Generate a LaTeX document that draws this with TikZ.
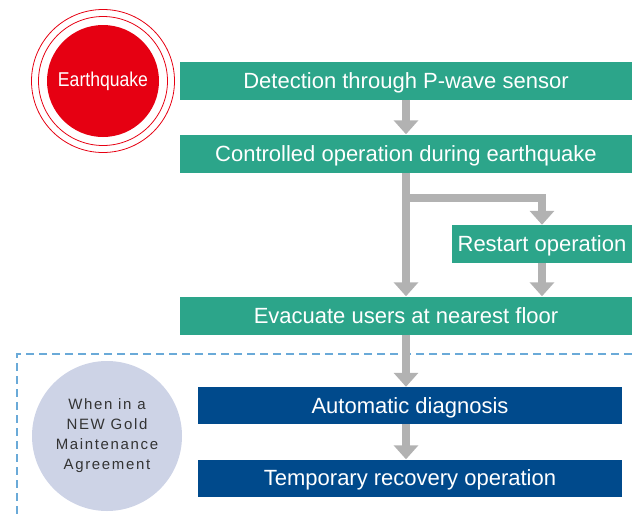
\documentclass[tikz,border=0pt]{standalone}
\usepackage{fontspec}
\setmainfont{Liberation Sans}
\newfontfamily\spaced[LetterSpace=11]{Liberation Sans}
\usepackage{tikz}
\usetikzlibrary{arrows.meta,positioning,calc}
\definecolor{quakered}{HTML}{E60012}
\definecolor{stepgreen}{HTML}{2CA58A}
\definecolor{stepblue}{HTML}{004A8C}
\definecolor{arrgray}{HTML}{B2B2B2}
\definecolor{agrgray}{HTML}{CDD3E6}
\definecolor{dashblue}{HTML}{6AAAD8}
\begin{document}
\begin{tikzpicture}[
                x=1pt, y=-1pt,
                font=\fontsize{22}{26}\selectfont,
                gbox/.style={fill=stepgreen, text=white, inner sep=0pt, minimum width=452pt, minimum height=38pt, text height=15.8pt, text depth=0pt},
                bbox/.style={fill=stepblue, text=white, inner sep=0pt, minimum width=424pt, minimum height=37pt, text height=15.8pt, text depth=0pt},
                arr/.style={draw=arrgray, line width=8pt, -{Triangle[width=24pt, length=14pt]}},
                ring/.style={draw=quakered, line width=0.8pt},
            ]
            \useasboundingbox (0,0) rectangle (632,517);
            % --- earthquake mark ---
            \node[circle, fill=quakered, minimum size=112pt, inner sep=0pt, text=white,
                  font=\fontsize{20}{24}\selectfont] (quake) at (103,81) {\scalebox{0.88}[1]{Earthquake}};
            \draw[ring] (quake.center) circle[radius=64.5];
            \draw[ring] (quake.center) circle[radius=71.5];
            % --- flow steps ---
            \node[gbox] (detect) at (406,80.5) {Detection through P-wave sensor};
            \node[gbox] (ctrl) at (406,153.5) {Controlled operation during earthquake};
            \node[gbox, minimum width=180pt] (restart) at (542,244) {Restart operation};
            \node[gbox] (evac) at (406,315.5) {Evacuate users at nearest floor};
            % --- maintenance agreement area ---
            \draw[dashblue, line width=1.2pt, dash pattern=on 8pt off 5pt] (632,354) -- (17,354) -- (17,517);
            \node[circle, fill=agrgray, minimum size=150pt, inner sep=0pt, align=center, text=black!80,
                  font=\fontsize{15}{20}\selectfont\spaced] (agree) at (107,436) {When in a\\NEW Gold\\Maintenance\\Agreement};
            \node[bbox] (diag) at (410,405.5) {Automatic diagnosis};
            \node[bbox] (temp) at (410,478) {Temporary recovery operation};
            % --- arrows ---
            \draw[arr] (detect.south) -- (ctrl.north);
            \draw[arr] (ctrl.south) -- (evac.north);
            \draw[arr] ($(ctrl.south)+(0,25)$) -| (restart.north);
            \draw[arr] (restart.south) -- (restart.south |- evac.north);
            \draw[arr] (evac.south) -- (evac.south |- diag.north);
            \draw[arr] (evac.south |- diag.south) -- (evac.south |- temp.north);
        \end{tikzpicture}
\end{document}
